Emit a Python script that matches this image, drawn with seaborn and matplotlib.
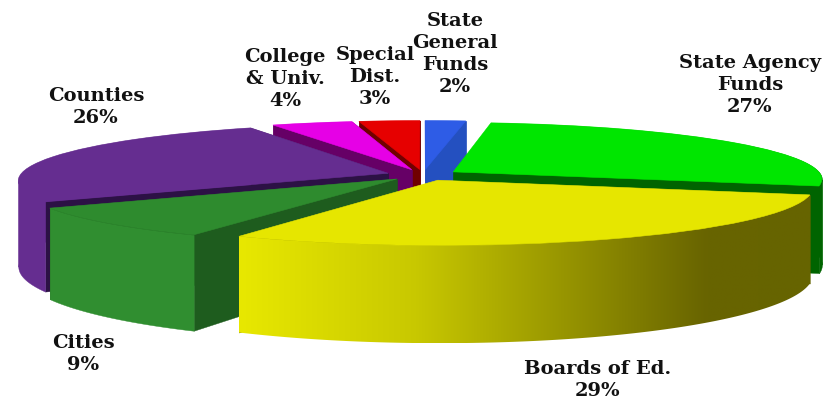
import numpy as np
import pandas as pd
import seaborn as sns
import matplotlib
matplotlib.use("Agg")
import matplotlib.pyplot as plt
from matplotlib.collections import PolyCollection
from matplotlib.colors import LinearSegmentedColormap
from matplotlib.patches import Polygon
from matplotlib.transforms import Transform

categories = ["State General Funds", "State Agency Funds", "Boards of Ed.", "Cities",
              "Counties", "College & Univ.", "Special Dist."]
shares = [2, 27, 29, 9, 26, 4, 3]
label_texts = ["State\nGeneral\nFunds\n2%", "State Agency\nFunds\n27%", "Boards of Ed.\n29%",
               "Cities\n9%", "Counties\n26%", "College\n& Univ.\n4%", "Special\nDist.\n3%"]

top_colors = ["#2e5ce6", "#00e600", "#e6e600", "#2e8b2e", "#652d90", "#e600e6", "#e60000"]
cut_colors = ["#2450c0", "#006400", "#666600", "#1e5c1e", "#2c1145", "#660066", "#700000"]
rim_colors = ["#2450c0", "#006400", "#e6e600", "#308e30", "#652d90", "#660066", "#700000"]
paint_order = [6, 0, 5, 4, 1, 3, 2]
label_xy = [(455, 54), (750, 85), (598, 380), (83, 354), (96, 107), (285, 79), (375, 77)]

CX, CY, RX, RY, K, DEPTH = 423.0, 175.0, 368.0, 56.0, 0.12, 85.0


class Persp(Transform):
    input_dims = output_dims = 2
    has_inverse = False

    def transform_non_affine(self, values):
        pts = np.asarray(values, dtype=float)
        s = 1.0 / (1.0 + K * pts[:, 1])
        return np.column_stack([CX + RX * pts[:, 0] * s, CY - RY * pts[:, 1] * s])


persp = Persp()


def project(u, v, lowered=False):
    u, v = np.atleast_1d(u), np.atleast_1d(v)
    p = persp.transform_non_affine(np.column_stack([u, v]))
    if lowered:
        p[:, 1] += DEPTH / (1.0 + K * v)
    return p


sns.set_theme(style="white")
plt.rcParams["font.family"] = ["DejaVu Serif"]
fig = plt.figure(figsize=(8.37, 4.03), dpi=100)
ax = fig.add_axes([0, 0, 1, 1])

df = pd.DataFrame({"category": categories, "share": shares})
wedges, _ = ax.pie(df["share"], startangle=90, counterclock=False,
                   explode=[0.1] * len(df), colors=top_colors, radius=1.0)
ax.set_aspect("auto")
ax.axis("off")

yellow_map = LinearSegmentedColormap.from_list(
    "rim", [(0, "#e8e800"), (0.31, "#c8c800"), (0.82, "#686400"), (1, "#666400")])


def rim_polygon(u, v):
    return np.vstack([project(u, v), project(u, v, True)[::-1]])


for rank, i in enumerate(paint_order):
    w = wedges[i]
    t1, t2 = np.radians(w.theta1), np.radians(w.theta2)
    cu, cv = w.center
    base = 10 + rank * 10
    th = np.linspace(t1, t2, 300)
    u, v = cu + np.cos(th), cv + np.sin(th)
    # the rim faces the viewer where the arc runs rightwards with growing angle
    front = np.gradient(project(u, v)[:, 0]) > 0
    back = ~front
    if back.any():
        ax.add_collection(PolyCollection([rim_polygon(u[back], v[back])], facecolors=rim_colors[i],
                                         edgecolors=rim_colors[i], linewidths=0.3, zorder=base))
    ends = sorted([t1, t2], key=lambda a: -np.sin(a))
    for n, a in enumerate(ends):
        eu, ev = cu + np.cos(a), cv + np.sin(a)
        quad = np.vstack([project(cu, cv), project(eu, ev), project(eu, ev, True), project(cu, cv, True)])
        ax.add_collection(PolyCollection([quad], facecolors=cut_colors[i], edgecolors=cut_colors[i],
                                         linewidths=0.3, zorder=base + 1 + n))
    if front.any():
        poly = rim_polygon(u[front], v[front])
        if i == 2:
            grad = np.linspace(0, 1, 256)[None, :]
            x0, x1 = poly[:, 0].min(), poly[:, 0].max()
            y0, y1 = poly[:, 1].min(), poly[:, 1].max()
            im = ax.imshow(grad, cmap=yellow_map, extent=(x0, x1, y1, y0), aspect="auto",
                           zorder=base + 4, interpolation="bilinear")
            clip = Polygon(poly, closed=True, transform=ax.transData, facecolor="none", edgecolor="none")
            ax.add_patch(clip)
            im.set_clip_path(clip)
        else:
            ax.add_collection(PolyCollection([poly], facecolors=rim_colors[i], edgecolors=rim_colors[i],
                                             linewidths=0.3, zorder=base + 4))
    w.set_transform(persp + ax.transData)
    w.set_zorder(base + 5)
    w.set_edgecolor(top_colors[i])
    w.set_linewidth(0.4)

for text, (x, y) in zip(label_texts, label_xy):
    ax.text(x, y, text, ha="center", va="center", fontsize=14, fontweight="bold",
            color="#111111", linespacing=1.3, zorder=200)

ax.set_xlim(0, 837)
ax.set_ylim(403, 0)
fig.savefig("out.png", dpi=100)
